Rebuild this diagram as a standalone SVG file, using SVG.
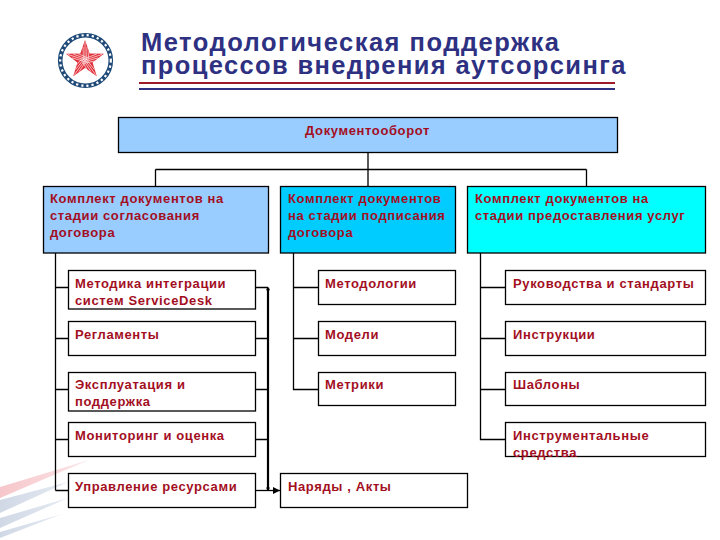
<svg xmlns="http://www.w3.org/2000/svg" width="720" height="540" viewBox="0 0 720 540">
<style>
.b{stroke:#000;stroke-width:1.3}
.w{fill:#fff}
.t{font:bold 13px "Liberation Sans",Arial,sans-serif;fill:#a30f1f;letter-spacing:.62px}
.h{font:bold 25.5px "Liberation Sans",Arial,sans-serif;fill:#2e3182}
.c{fill:none;stroke:#000;stroke-width:1.3}
.hatch{stroke:#fff;stroke-width:.6;fill:none}
</style>
<defs>
<marker id="a" markerWidth="8" markerHeight="7" refX="7" refY="3.500" orient="auto" markerUnits="userSpaceOnUse"><path d="M0 0L7 3.500L0 7z"/></marker>
<linearGradient id="gr" x1="0" y1="0" x2="1" y2="0"><stop offset="0" stop-color="#f6c6ca"/><stop offset="1" stop-color="#fbe6e8"/></linearGradient>
<linearGradient id="gb" x1="0" y1="0" x2="1" y2="0"><stop offset="0" stop-color="#d0d8e6"/><stop offset="1" stop-color="#e6ebf2"/></linearGradient>
<g id="blade"><path class="hatch" d="M83.500 60L83 47M85 60L85 42M86.500 60L87 47M88 60L89 51"/></g>
</defs>
<rect width="720" height="540" fill="#fff"/>
<g id="streaks">
<path d="M89 460L0 487V498z" fill="url(#gr)"/>
<path d="M68 482L0 500V513z" fill="url(#gb)"/>
<path d="M68 498L0 518V528z" fill="url(#gb)"/>
<path d="M62 514L0 532V538z" fill="url(#gb)"/>
</g>
<g id="logo">
<circle cx="85.500" cy="60.500" r="25.300" fill="none" stroke="#1f4a78" stroke-width="4.600"/>
<circle cx="85.500" cy="60.500" r="25.300" fill="none" stroke="#fff" stroke-width="2.200" stroke-dasharray="2.200 3"/>
<path d="M85 40L89.700 53.500L104 53.800L92.600 62.500L96.800 76.200L85 68L73.200 76.200L77.400 62.500L66 53.800L80.300 53.500z" fill="#e2303a"/>
<use href="#blade"/>
<use href="#blade" transform="rotate(72 85 60)"/>
<use href="#blade" transform="rotate(144 85 60)"/>
<use href="#blade" transform="rotate(216 85 60)"/>
<use href="#blade" transform="rotate(288 85 60)"/>
</g>
<g id="title">
<text class="h" x="141" y="51" style="letter-spacing:1.5px">Методологическая поддержка</text>
<text class="h" x="141" y="74" style="letter-spacing:1.37px">процессов внедрения аутсорсинга</text>
<path d="M139 83H615" stroke="#a01a28" stroke-width="2"/>
<path d="M139 89H615" stroke="#2e3182" stroke-width="2"/>
</g>
<g id="connectors" fill="none">
<path class="c" d="M368 152V186M155.500 169.500H586.500M155.500 169.500V186M586.500 169.500V186"/>
<path class="c" d="M55.500 253V490.500M55.500 287.500H68M55.500 338.500H68M55.500 389.500H68M55.500 439.500H68M55.500 490.500H68"/>
<path class="c" d="M293.500 253V389.500H318M293.500 287.500H318M293.500 338.500H318"/>
<path class="c" d="M480.500 253V439.500H505M480.500 287.500H505M480.500 338.500H505M480.500 389.500H505"/>
<path d="M268 287.500V490" stroke="#000" stroke-width="2.200"/>
<path class="c" d="M254 287.500H268M254 338.500H268M254 389.500H268M254 439.500H268"/>
<path class="c" d="M255 490.500H280" marker-end="url(#a)"/>
<circle cx="268" cy="289.500" r="1.600" fill="#000"/>
<circle cx="268" cy="488" r="1.600" fill="#000"/>
</g>
<g id="n-root"><rect class="b" x="118.500" y="117.500" width="499" height="35" fill="#99ccff"/><text class="t" x="367.500" y="135" text-anchor="middle">Документооборот</text></g>
<g id="n-a"><rect class="b" x="43.500" y="186.500" width="225" height="66.500" fill="#99ccff"/><text class="t" x="50" y="203">Комплект документов на</text><text class="t" x="50" y="220">стадии согласования</text><text class="t" x="50" y="237">договора</text></g>
<g id="n-b"><rect class="b" x="280.500" y="186.500" width="175" height="66.500" fill="#00ccff"/><text class="t" x="288" y="203">Комплект документов</text><text class="t" x="288" y="220">на стадии подписания</text><text class="t" x="288" y="237">договора</text></g>
<g id="n-c"><rect class="b" x="467.500" y="186.500" width="238" height="66.500" fill="#00ffff"/><text class="t" x="475" y="203">Комплект документов на</text><text class="t" x="475" y="220">стадии предоставления услуг</text></g>
<g id="n-a1"><rect class="b w" x="68.500" y="270.500" width="187" height="38.500"/><text class="t" x="75" y="288">Методика интеграции</text><text class="t" x="75" y="305">систем ServiceDesk</text></g>
<g id="n-a2"><rect class="b w" x="68.500" y="321.500" width="187" height="34"/><text class="t" x="75" y="339">Регламенты</text></g>
<g id="n-a3"><rect class="b w" x="68.500" y="372.500" width="187" height="38.500"/><text class="t" x="75" y="389">Эксплуатация и</text><text class="t" x="75" y="406">поддержка</text></g>
<g id="n-a4"><rect class="b w" x="68.500" y="422.500" width="187" height="34"/><text class="t" x="75" y="440">Мониторинг и оценка</text></g>
<g id="n-a5"><rect class="b w" x="68.500" y="473.500" width="187" height="34"/><text class="t" x="75" y="491">Управление ресурсами</text></g>
<g id="n-b1"><rect class="b w" x="318.500" y="270.500" width="137" height="34"/><text class="t" x="325" y="288">Методологии</text></g>
<g id="n-b2"><rect class="b w" x="318.500" y="321.500" width="137" height="34"/><text class="t" x="325" y="339">Модели</text></g>
<g id="n-b3"><rect class="b w" x="318.500" y="372.500" width="137" height="33"/><text class="t" x="325" y="389">Метрики</text></g>
<g id="n-c1"><rect class="b w" x="505.500" y="270.500" width="200" height="34"/><text class="t" x="513" y="288">Руководства и стандарты</text></g>
<g id="n-c2"><rect class="b w" x="505.500" y="321.500" width="200" height="34"/><text class="t" x="513" y="339">Инструкции</text></g>
<g id="n-c3"><rect class="b w" x="505.500" y="372.500" width="200" height="33"/><text class="t" x="513" y="389">Шаблоны</text></g>
<g id="n-c4"><rect class="b w" x="505.500" y="422.500" width="200" height="34"/><text class="t" x="513" y="440">Инструментальные</text><text class="t" x="513" y="457">средства</text></g>
<g id="n-d"><rect class="b w" x="280.500" y="473.500" width="187" height="34"/><text class="t" x="288" y="491">Наряды , Акты</text></g>
</svg>
